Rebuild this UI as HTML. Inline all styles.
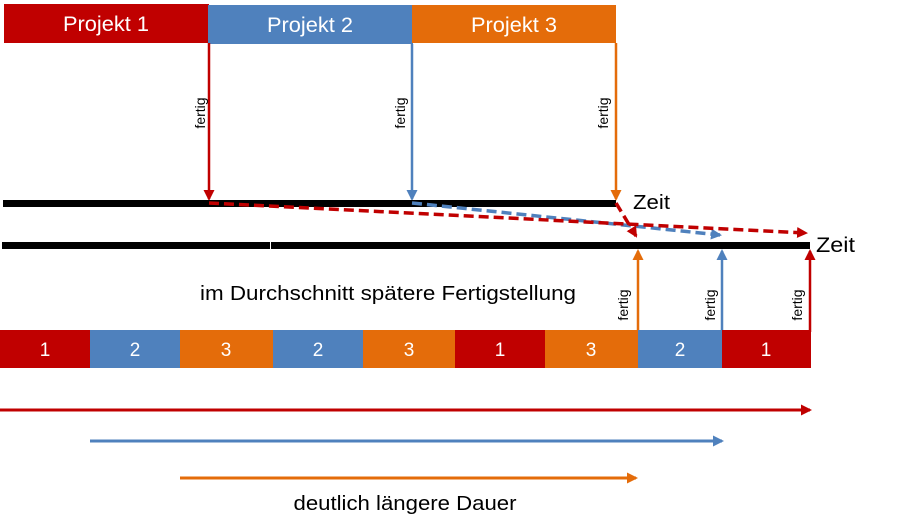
<!DOCTYPE html>
<html><head><meta charset="utf-8"><style>
html,body{margin:0;padding:0;background:#fff;}
svg{display:block;font-family:"Liberation Sans",sans-serif;}
</style></head><body>
<svg width="921" height="532" viewBox="0 0 921 532" xmlns="http://www.w3.org/2000/svg">
<defs>
<marker id="ar" markerWidth="11" markerHeight="11" refX="9" refY="5.5" orient="auto" markerUnits="userSpaceOnUse"><path d="M0,0 L11,5.5 L0,11 z" fill="#C00000"/></marker>
<marker id="ab" markerWidth="11" markerHeight="11" refX="9" refY="5.5" orient="auto" markerUnits="userSpaceOnUse"><path d="M0,0 L11,5.5 L0,11 z" fill="#4F81BD"/></marker>
<marker id="ao" markerWidth="11" markerHeight="11" refX="9" refY="5.5" orient="auto" markerUnits="userSpaceOnUse"><path d="M0,0 L11,5.5 L0,11 z" fill="#E46C0A"/></marker>
</defs>
<rect x="4" y="4" width="205" height="39" fill="#C00000"/>
<rect x="208" y="5" width="205" height="39" fill="#4F81BD"/>
<rect x="412" y="5" width="204" height="38" fill="#E46C0A"/>
<g fill="#fff" font-size="21" text-anchor="middle">
<text x="106" y="31" textLength="86" lengthAdjust="spacingAndGlyphs">Projekt 1</text>
<text x="310" y="32" textLength="86" lengthAdjust="spacingAndGlyphs">Projekt 2</text>
<text x="514" y="32" textLength="86" lengthAdjust="spacingAndGlyphs">Projekt 3</text>
</g>
<line x1="209" y1="43" x2="209" y2="199" stroke="#C00000" stroke-width="2.5" marker-end="url(#ar)"/>
<line x1="412" y1="44" x2="412" y2="199" stroke="#4F81BD" stroke-width="2.5" marker-end="url(#ab)"/>
<line x1="616" y1="43" x2="616" y2="199" stroke="#E46C0A" stroke-width="2.5" marker-end="url(#ao)"/>
<g font-size="14" fill="#000">
<text transform="translate(205,113) rotate(-90)" text-anchor="middle">fertig</text>
<text transform="translate(405,113) rotate(-90)" text-anchor="middle">fertig</text>
<text transform="translate(608,113) rotate(-90)" text-anchor="middle">fertig</text>
</g>
<rect x="3" y="200" width="613" height="7" fill="#000"/>
<text x="633" y="209" font-size="20" textLength="37" lengthAdjust="spacingAndGlyphs">Zeit</text>
<rect x="2" y="242" width="808" height="7" fill="#000"/>
<rect x="270" y="242" width="1" height="7" fill="#fff"/>
<text x="816" y="252" font-size="21" textLength="39" lengthAdjust="spacingAndGlyphs">Zeit</text>
<line x1="412" y1="203" x2="720" y2="235" stroke="#4F81BD" stroke-width="3.5" stroke-dasharray="10,5" marker-end="url(#ab)"/>
<line x1="209" y1="203" x2="806" y2="233" stroke="#C00000" stroke-width="3.5" stroke-dasharray="10,5" marker-end="url(#ar)"/>
<line x1="616" y1="203" x2="636" y2="236" stroke="#C00000" stroke-width="3.5" stroke-dasharray="10,5" marker-end="url(#ar)"/>
<text x="388" y="300" font-size="20" text-anchor="middle" textLength="376" lengthAdjust="spacingAndGlyphs">im Durchschnitt spätere Fertigstellung</text>
<line x1="638" y1="332" x2="638" y2="251" stroke="#E46C0A" stroke-width="2.5" marker-end="url(#ao)"/>
<line x1="722" y1="332" x2="722" y2="251" stroke="#4F81BD" stroke-width="2.5" marker-end="url(#ab)"/>
<line x1="810" y1="332" x2="810" y2="251" stroke="#C00000" stroke-width="2.5" marker-end="url(#ar)"/>
<g font-size="14" fill="#000">
<text transform="translate(628,305) rotate(-90)" text-anchor="middle">fertig</text>
<text transform="translate(715,305) rotate(-90)" text-anchor="middle">fertig</text>
<text transform="translate(802,305) rotate(-90)" text-anchor="middle">fertig</text>
</g>
<rect x="0" y="330" width="90" height="38" fill="#C00000"/>
<rect x="90" y="330" width="90" height="38" fill="#4F81BD"/>
<rect x="180" y="330" width="93" height="38" fill="#E46C0A"/>
<rect x="273" y="330" width="90" height="38" fill="#4F81BD"/>
<rect x="363" y="330" width="92" height="38" fill="#E46C0A"/>
<rect x="455" y="330" width="90" height="38" fill="#C00000"/>
<rect x="545" y="330" width="93" height="38" fill="#E46C0A"/>
<rect x="638" y="330" width="85" height="38" fill="#4F81BD"/>
<rect x="722" y="330" width="89" height="38" fill="#C00000"/>
<g fill="#fff" font-size="19" text-anchor="middle">
<text x="45" y="356">1</text><text x="135" y="356">2</text><text x="226" y="356">3</text>
<text x="318" y="356">2</text><text x="409" y="356">3</text><text x="500" y="356">1</text>
<text x="591" y="356">3</text><text x="680" y="356">2</text><text x="766" y="356">1</text>
</g>
<line x1="0" y1="410" x2="810" y2="410" stroke="#C00000" stroke-width="3" marker-end="url(#ar)"/>
<line x1="90" y1="441" x2="722" y2="441" stroke="#4F81BD" stroke-width="3" marker-end="url(#ab)"/>
<line x1="180" y1="478" x2="636" y2="478" stroke="#E46C0A" stroke-width="3" marker-end="url(#ao)"/>
<text x="405" y="510" font-size="20" text-anchor="middle" textLength="223" lengthAdjust="spacingAndGlyphs">deutlich längere Dauer</text>
</svg>
</body></html>
